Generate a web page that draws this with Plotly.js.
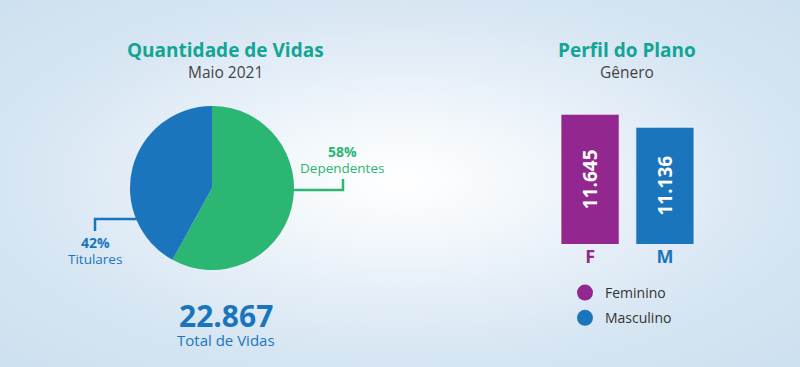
<!DOCTYPE html>
<html>
<head>
<meta charset="utf-8">
<script src="https://cdn.plot.ly/plotly-3.0.1.min.js"></script>
<style>
  html, body { margin: 0; padding: 0; }
  body {
    width: 800px; height: 367px; overflow: hidden;
    background: radial-gradient(ellipse farthest-corner at 50% 49%, #ffffff 0%, #f5f9fc 18%, #e6eff8 42%, #d5e5f2 70%, #cde0ef 100%);
  }
  #chart { width: 800px; height: 367px; }
</style>
</head>
<body>
<div id="chart"></div>
<script>
// ---- data ----
const pieLabels = ['Dependentes', 'Titulares'];
const pieValues = [58, 42];
const pieColors = ['#2bb673', '#1b75bc'];

const genderCats = ['F', 'M'];
const genderValues = [11645, 11136];
const genderNames = ['Feminino', 'Masculino'];
const genderColors = ['#92278f', '#1b75bc'];
const genderAxisFloor = 6550;

const totalVidas = 22867;

const leftTitle = 'Quantidade de Vidas';
const leftSubtitle = 'Maio 2021';
const rightTitle = 'Perfil do Plano';
const rightSubtitle = 'Gênero';
const totalLabel = 'Total de Vidas';

// ---- helpers ----
const W = 800, H = 367;
const px = x => x / W;
const py = y => 1 - y / H;
function fmtThousands(n) {
  return String(n).replace(/\B(?=(\d{3})+(?!\d))/g, '.');
}
const FONT = 'Open Sans, Noto Sans, sans-serif';
const TEAL = '#12a594';
const GRAY = '#444444';

const pieSum = pieValues.reduce((a, b) => a + b, 0);
const piePct = pieValues.map(v => Math.round(v / pieSum * 100) + '%');

// ---- traces ----
const pieTrace = {
  type: 'pie',
  labels: pieLabels,
  values: pieValues,
  sort: false,
  direction: 'clockwise',
  rotation: 0,
  textinfo: 'none',
  hoverinfo: 'label+percent',
  marker: { colors: pieColors, line: { width: 0 } },
  domain: { x: [px(130), px(294)], y: [py(270), py(106)] },
  showlegend: false
};

const barTrace = {
  type: 'bar',
  x: genderCats,
  y: genderValues,
  xaxis: 'x2',
  yaxis: 'y2',
  marker: { color: genderColors, line: { color: 'rgba(255,255,255,0.7)', width: 1 } },
  textposition: 'none',
  hoverinfo: 'x+y',
  showlegend: false
};

const legendTraces = genderNames.map((name, i) => ({
  type: 'scatter',
  mode: 'markers',
  x: [null], y: [null],
  xaxis: 'x2', yaxis: 'y2',
  name: name,
  legendgroup: name,
  marker: { color: genderColors[i], size: 16, symbol: 'circle' },
  showlegend: true
}));

// ---- annotations ----
const ann = (text, x, y, size, color, bold) => ({
  text: bold ? '<b>' + text + '</b>' : text,
  xref: 'paper', yref: 'paper',
  x: px(x), y: py(y),
  xanchor: 'center', yanchor: 'middle',
  showarrow: false,
  font: { family: FONT, size: size, color: color }
});

const barValueLabels = genderCats.map((c, i) => ({
  text: '<b>' + fmtThousands(genderValues[i]) + '</b>',
  xref: 'x2', yref: 'y2',
  x: c, y: (genderAxisFloor + genderValues[i]) / 2,
  textangle: -90,
  xanchor: 'center', yanchor: 'middle',
  showarrow: false,
  font: { family: FONT, size: 19, color: '#ffffff' }
}));

const annotations = [
  ann(leftTitle, 226, 50, 19, TEAL, true),
  ann(leftSubtitle, 225, 72, 15.5, GRAY, false),
  ann(rightTitle, 627, 50, 19, TEAL, true),
  ann(rightSubtitle, 627, 72, 15.5, GRAY, false),
  ann(piePct[0], 342, 151, 14, pieColors[0], true),
  ann(pieLabels[0], 342, 168, 13.5, pieColors[0], false),
  ann(piePct[1], 95, 242, 14, pieColors[1], true),
  ann(pieLabels[1], 95, 259, 13.5, pieColors[1], false),
  ann(fmtThousands(totalVidas), 226, 315, 30, '#1b75bc', true),
  ann(totalLabel, 226, 340, 15, '#1b75bc', false)
].concat(barValueLabels);

const path = pts => 'M ' + pts.map(p => px(p[0]) + ' ' + py(p[1])).join(' L ');
const shapes = [
  { type: 'path', xref: 'paper', yref: 'paper',
    path: path([[293, 190], [343, 190], [343, 179]]),
    line: { color: pieColors[0], width: 2.5 } },
  { type: 'path', xref: 'paper', yref: 'paper',
    path: path([[137, 219], [95, 219], [95, 231]]),
    line: { color: pieColors[1], width: 2.5 } }
];

const pitch = 74.7;
const layout = {
  width: W, height: H,
  margin: { l: 0, r: 0, t: 0, b: 0, pad: 0 },
  paper_bgcolor: 'rgba(0,0,0,0)',
  plot_bgcolor: 'rgba(0,0,0,0)',
  separators: ',.',
  font: { family: FONT },
  bargap: 0.223,
  xaxis2: {
    domain: [px(590 - pitch / 2), px(665 + pitch / 2)],
    anchor: 'y2',
    type: 'category',
    range: [-0.5, 1.5],
    tickvals: genderCats,
    ticktext: genderCats.map((c, i) => '<b><span style="color:' + genderColors[i] + '">' + c + '</span></b>'),
    tickfont: { family: FONT, size: 18 },
    showgrid: false, zeroline: false, showline: false, ticks: '',
    fixedrange: true
  },
  yaxis2: {
    domain: [py(244), py(114.3)],
    anchor: 'x2',
    range: [genderAxisFloor, genderValues[0]],
    visible: false,
    fixedrange: true
  },
  legend: {
    x: px(565), y: py(277),
    xanchor: 'left', yanchor: 'top',
    bgcolor: 'rgba(0,0,0,0)',
    font: { family: FONT, size: 14, color: '#333333' },
    tracegroupgap: 4,
    itemclick: false, itemdoubleclick: false
  },
  annotations: annotations,
  shapes: shapes
};

Plotly.newPlot('chart', [pieTrace, barTrace].concat(legendTraces), layout, { displayModeBar: false, staticPlot: true });
</script>
</body>
</html>
